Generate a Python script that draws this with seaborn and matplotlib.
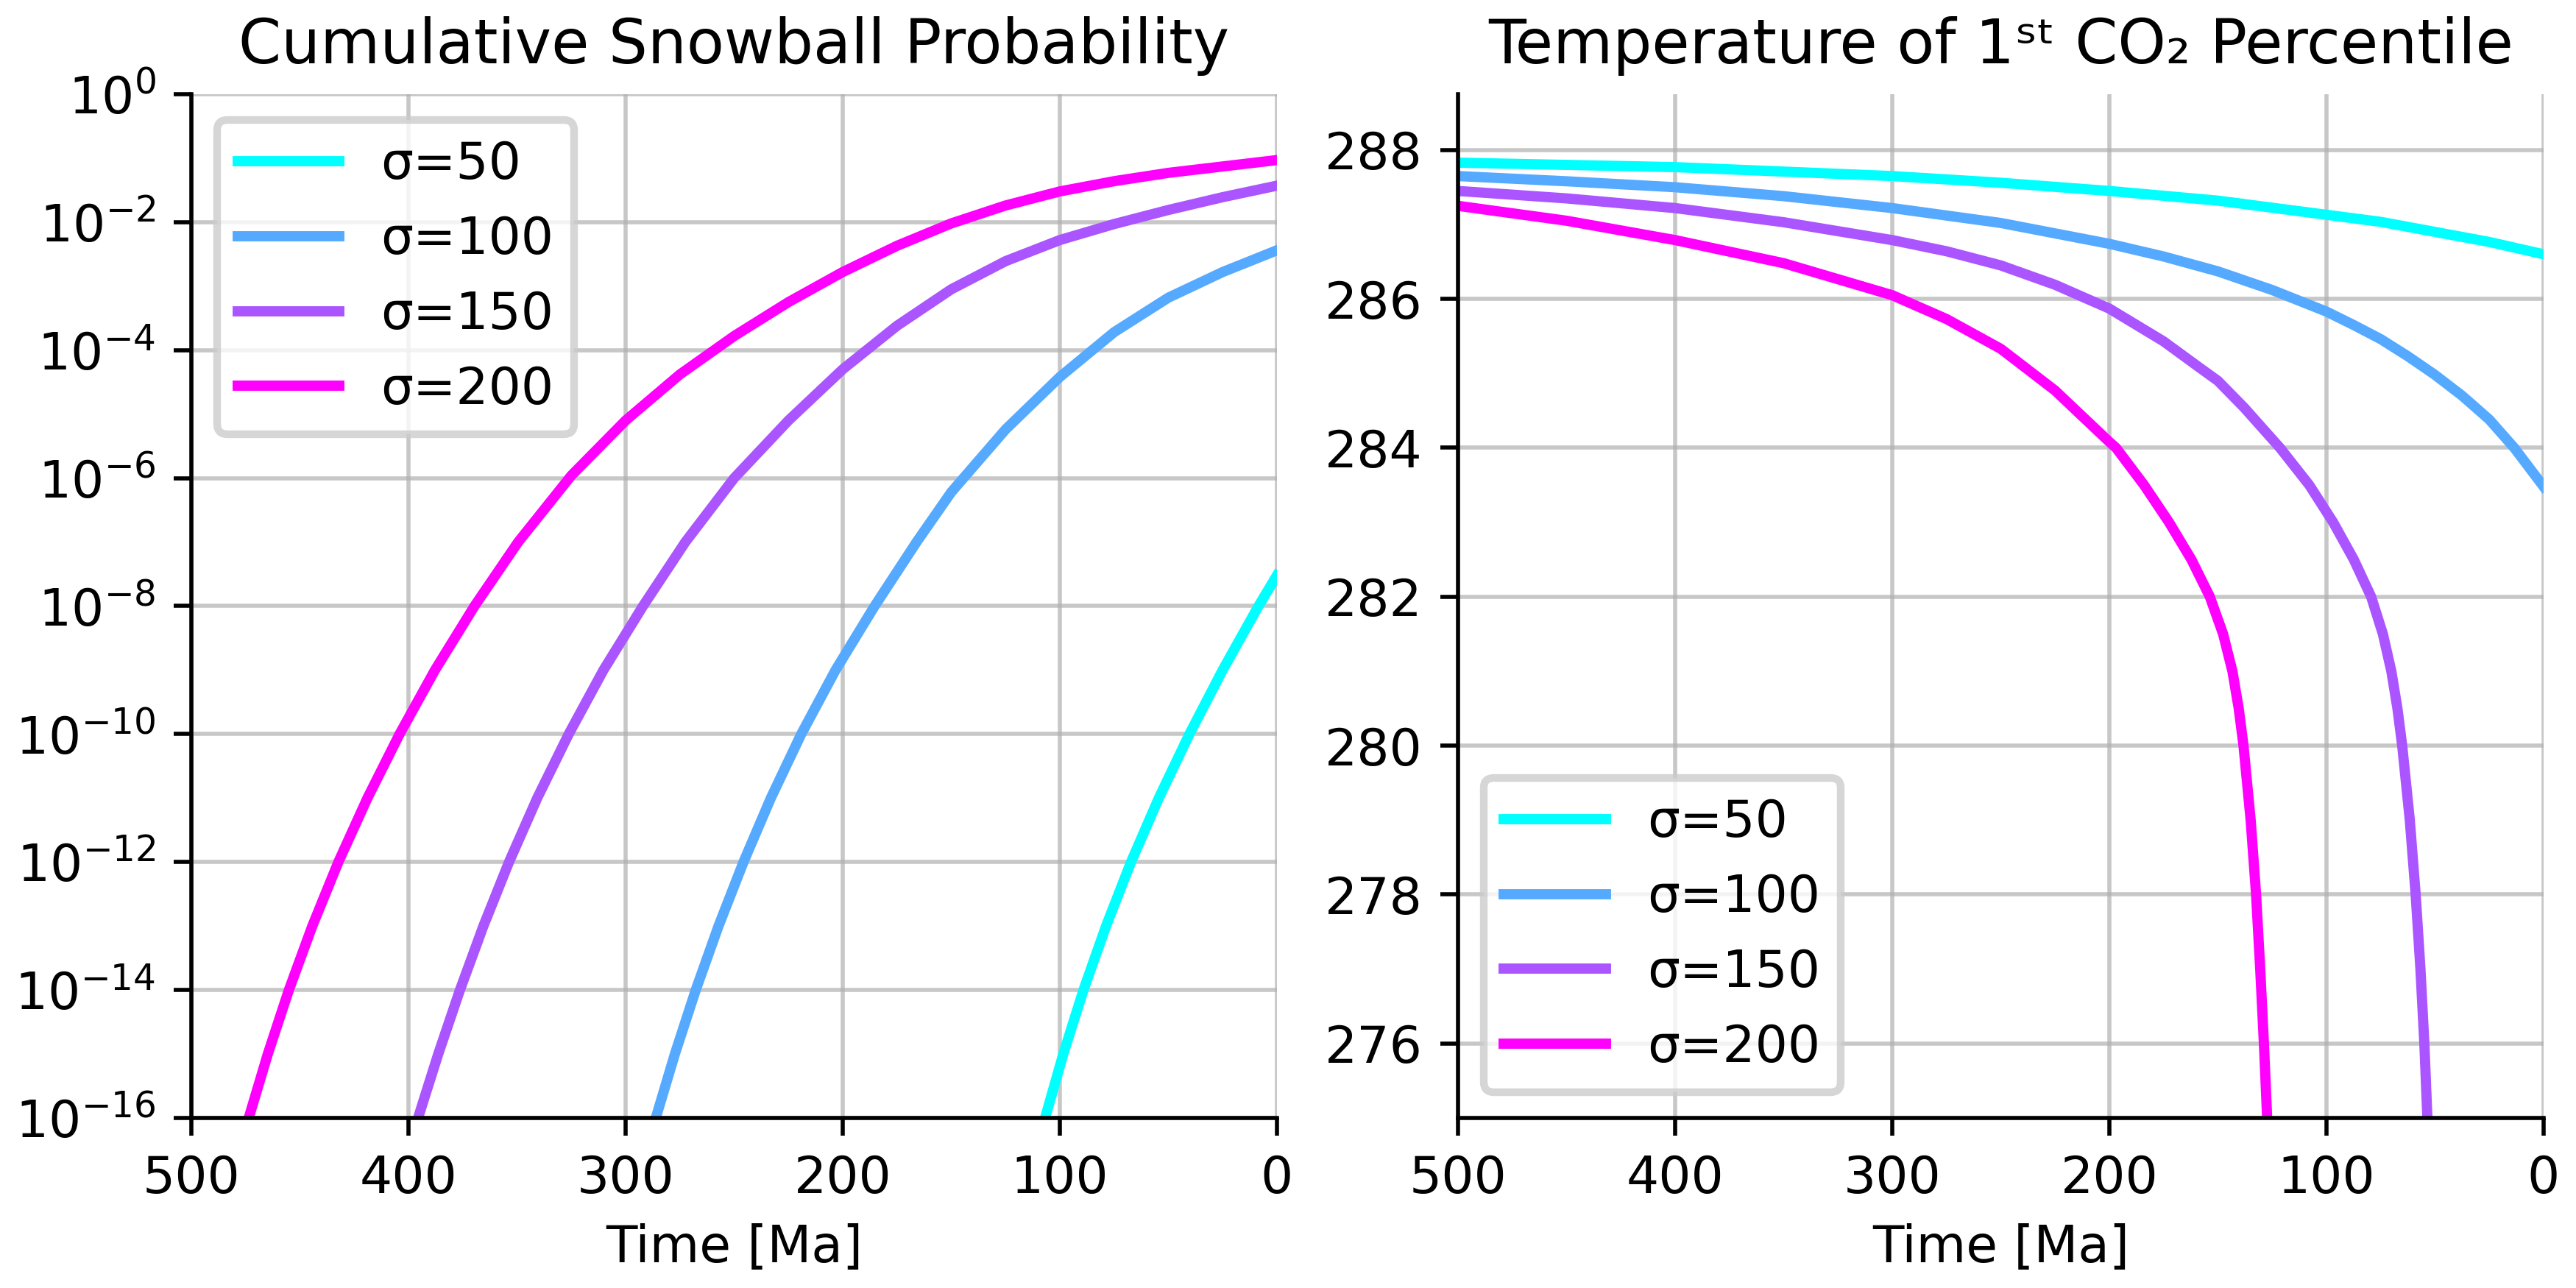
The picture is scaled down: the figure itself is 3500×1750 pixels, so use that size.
import matplotlib
matplotlib.use("Agg")
import matplotlib.pyplot as plt
import matplotlib.ticker as mticker
import numpy as np
import pandas as pd
import seaborn as sns

sigmas = [50, 100, 150, 200]
labels = ["σ=%d" % s for s in sigmas]
colors = [tuple(c) for c in plt.cm.cool(np.linspace(0, 1, len(sigmas)))]

# cumulative snowball probability (log10 of it), time in Ma
snow_t_50 = [0, 8.5, 25.0, 40.3, 54.4, 67.2, 78.7, 89.1, 98.4, 106.8]
snow_p_50 = [-7.52, -8, -9, -10, -11, -12, -13, -14, -15, -16]
snow_t_100 = [0, 25, 50, 75, 100, 125, 150, 166, 185.3, 203.3, 219.1, 233.1, 245.7, 257.2, 267.7, 277.3, 286.1]
snow_p_100 = [-2.44, -2.78, -3.18, -3.72, -4.42, -5.24, -6.22, -7, -8, -9, -10, -11, -12, -13, -14, -15, -16]
snow_t_150 = [0, 25, 50, 75, 100, 125, 150, 175, 200, 225, 250, 272.5, 292, 310.2, 326.2, 340.7, 353.7, 365.5, 376.3, 386.3, 395.6]
snow_p_150 = [-1.43, -1.61, -1.81, -2.03, -2.28, -2.61, -3.05, -3.62, -4.30, -5.10, -6.0, -7, -8, -9, -10, -11, -12, -13, -14, -15, -16]
snow_t_200 = [0, 25, 50, 75, 100, 125, 150, 175, 200, 225, 250, 275, 300, 325, 349.5, 369.6, 387.8, 404.1, 418.9, 432.3, 444.3, 455.1, 464.8, 473.6]
snow_p_200 = [-1.03, -1.13, -1.23, -1.36, -1.52, -1.74, -2.02, -2.37, -2.78, -3.25, -3.78, -4.38, -5.10, -5.96, -7, -8, -9, -10, -11, -12, -13, -14, -15, -16]

# temperature of the 1st CO2 percentile [K]
temp_t_50 = [500, 450, 400, 350, 300, 250, 200, 150, 100, 75, 50, 25, 0]
temp_k_50 = [287.83, 287.80, 287.77, 287.71, 287.65, 287.56, 287.45, 287.32, 287.13, 287.035, 286.90, 286.765, 286.60]
temp_t_100 = [500, 450, 400, 350, 300, 250, 200, 175, 150, 125, 100, 87.5, 75, 62.5, 50, 37.5, 25, 13.5, 0]
temp_k_100 = [287.65, 287.58, 287.50, 287.38, 287.22, 287.02, 286.74, 286.57, 286.37, 286.12, 285.83, 285.65, 285.46, 285.23, 284.98, 284.70, 284.38, 284.0, 283.48]
temp_t_150 = [500, 450, 400, 350, 300, 275, 250, 225, 200, 175, 158.1, 150, 137.9, 121.4, 107.9, 96.9, 87.4, 79.4, 74.0, 70.1, 67.3, 65.1, 61.6, 58.9, 56.7, 54.9, 53.5]
temp_k_150 = [287.45, 287.35, 287.22, 287.03, 286.79, 286.64, 286.45, 286.19, 285.87, 285.43, 285.07, 284.90, 284.54, 284.0, 283.5, 283.0, 282.5, 282.0, 281.5, 281.0, 280.5, 280.0, 279.0, 278.0, 277.0, 276.0, 275.0]
temp_t_200 = [500, 450, 400, 350, 300, 275, 250, 225, 215.6, 200, 196.9, 184.0, 172.5, 162.2, 153.7, 147.6, 143.3, 140.4, 138.2, 134.9, 132.4, 130.5, 128.8, 127.3]
temp_k_200 = [287.25, 287.05, 286.79, 286.48, 286.05, 285.73, 285.33, 284.77, 284.51, 284.08, 284.0, 283.5, 283.0, 282.5, 282.0, 281.5, 281.0, 280.5, 280.0, 279.0, 278.0, 277.0, 276.0, 275.0]

snow = pd.concat([
    pd.DataFrame({"time": t, "prob": 10.0 ** np.array(p), "sigma": lab})
    for t, p, lab in zip([snow_t_50, snow_t_100, snow_t_150, snow_t_200],
                         [snow_p_50, snow_p_100, snow_p_150, snow_p_200], labels)
])
temp = pd.concat([
    pd.DataFrame({"time": t, "temp": k, "sigma": lab})
    for t, k, lab in zip([temp_t_50, temp_t_100, temp_t_150, temp_t_200],
                         [temp_k_50, temp_k_100, temp_k_150, temp_k_200], labels)
])
palette = dict(zip(labels, colors))

fig, (ax1, ax2) = plt.subplots(1, 2, figsize=(7, 3.5), dpi=500)
fig.subplots_adjust(left=0.0743, right=0.9874, bottom=0.132, top=0.9269, wspace=0.1668)

## left: snowball probability
sns.lineplot(data=snow, x="time", y="prob", hue="sigma", palette=palette,
             estimator=None, lw=2, ax=ax1)
ax1.set_yscale("log")
ax1.set_ylim(1e-16, 1)
ax1.set_yticks(10.0 ** np.arange(-16, 1, 2))
ax1.yaxis.set_minor_locator(mticker.NullLocator())
ax1.set_title("Cumulative Snowball Probability", fontsize=12)
leg = ax1.legend(loc="upper left", fontsize=10)
leg.get_frame().set_linewidth(1.5)

## right: temperature
sns.lineplot(data=temp, x="time", y="temp", hue="sigma", palette=palette,
             estimator=None, lw=2, ax=ax2)
ax2.set_ylim(275, 288.75)
ax2.set_title("Temperature of 1ˢᵗ CO₂ Percentile", fontsize=12)
leg = ax2.legend(loc="lower left", fontsize=10)
leg.get_frame().set_linewidth(1.5)

for ax in (ax1, ax2):
    ax.set_xlim(500, 0)
    ax.set_xlabel("Time [Ma]", fontsize=10)
    ax.set_ylabel("")
    ax.grid(True, color="#b0b0b0", alpha=0.7, lw=0.8)
    ax.tick_params(labelsize=10)
    sns.despine(ax=ax)

fig.savefig("out.png", dpi=500)
